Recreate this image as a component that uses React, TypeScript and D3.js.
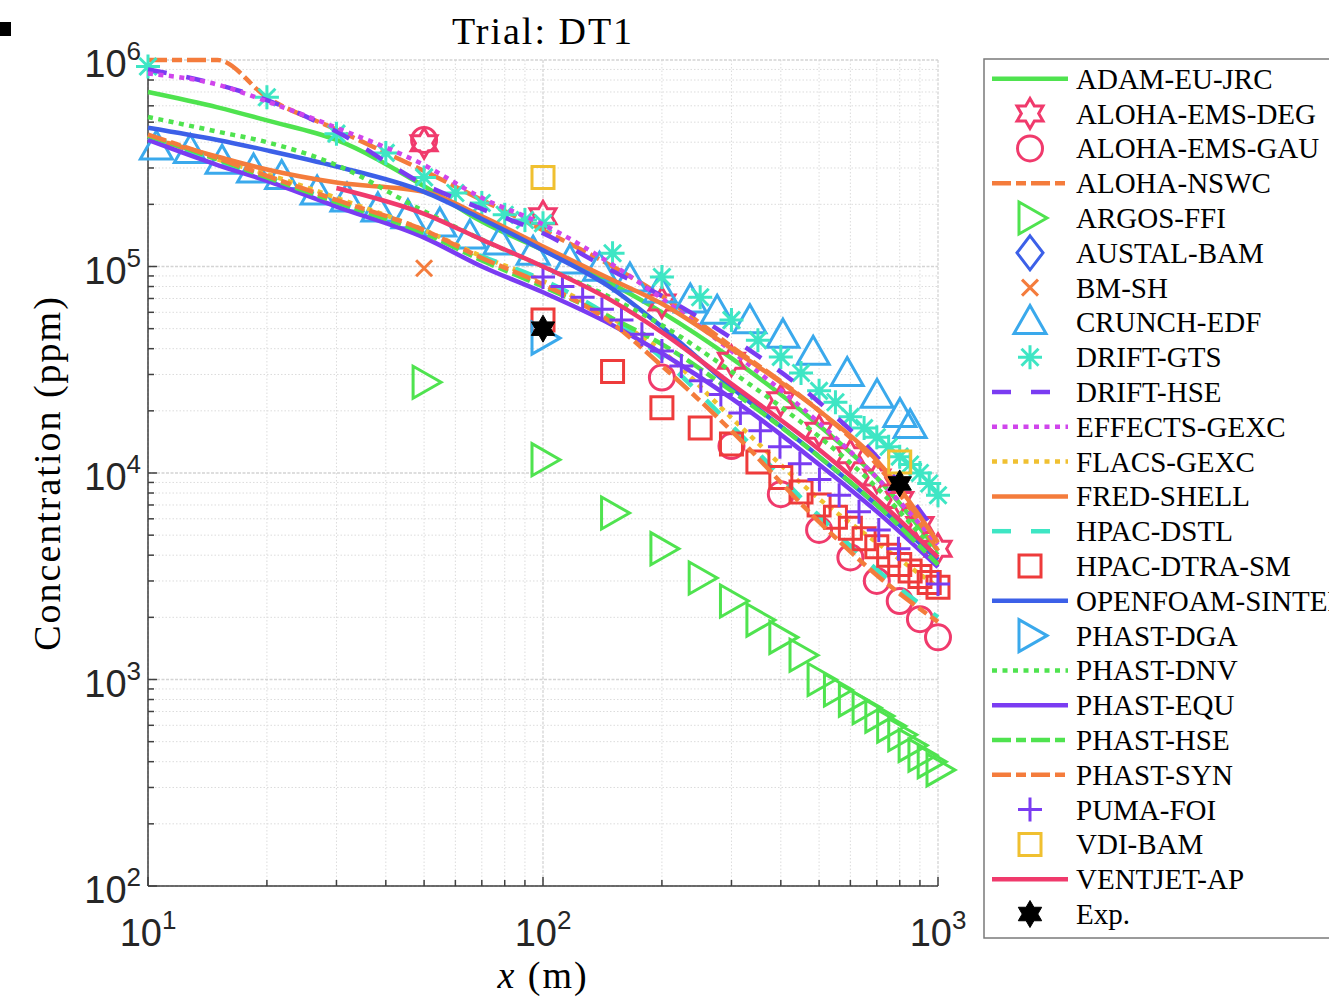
import * as d3 from "d3";
import { useEffect, useRef } from "react";

// downwind distances (m) of the continuous model curves
const lineX = [10, 15, 20, 30, 50, 70, 100, 150, 200, 300, 500, 700, 1000];
const ventjetX = [30, 50, 70, 100, 150, 200, 300, 500, 700, 1000];

// concentrations (ppm) read at lineX
const adamEuJrc = [7.0e5, 5.9e5, 5.1e5, 4.1e5, 2.45e5, 1.65e5, 1.2e5, 8.2e4, 6.0e4, 3.6e4, 1.7e4, 9.5e3, 4.2e3];
const alohaNswc = [1e6, 1e6, 6.6e5, 4.6e5, 2.9e5, 2.1e5, 1.5e5, 1.0e5, 7.2e4, 4.1e4, 2.0e4, 1.1e4, 4.2e3];
const driftHse = [9.0e5, 7.6e5, 6.4e5, 4.5e5, 2.5e5, 1.9e5, 1.45e5, 9.5e4, 7.2e4, 4.5e4, 2.2e4, 1.2e4, 5.0e3];
const effectsGexc = [8.6e5, 7.6e5, 6.3e5, 4.7e5, 3.1e5, 2.15e5, 1.6e5, 1.02e5, 7.0e4, 3.9e4, 1.75e4, 9.5e3, 4.5e3];
const flacsGexc = [4.3e5, 3.3e5, 2.8e5, 2.15e5, 1.5e5, 1.12e5, 8.5e4, 5.6e4, 3.9e4, 1.85e4, 7.5e3, 4.6e3, 2.8e3];
const fredShell = [4.2e5, 3.4e5, 2.95e5, 2.55e5, 2.3e5, 1.75e5, 1.25e5, 8.6e4, 6.6e4, 4.0e4, 2.0e4, 1.15e4, 4.6e3];
const hpacDstl = [4.2e5, 3.25e5, 2.7e5, 2.05e5, 1.45e5, 1.12e5, 8.6e4, 5.6e4, 3.6e4, 1.7e4, 6.2e3, 3.4e3, 2.0e3];
const openfoamSintef = [4.7e5, 4.1e5, 3.65e5, 3.05e5, 2.3e5, 1.7e5, 1.2e5, 7.8e4, 5.1e4, 2.6e4, 1.2e4, 7.0e3, 3.8e3];
const phastDnv = [5.3e5, 4.5e5, 4.0e5, 3.1e5, 1.85e5, 1.35e5, 1.0e5, 7.0e4, 5.2e4, 3.1e4, 1.5e4, 8.5e3, 4.0e3];
const phastEqu = [4.1e5, 3.1e5, 2.6e5, 1.95e5, 1.38e5, 1.0e5, 7.5e4, 5.2e4, 3.8e4, 2.3e4, 1.1e4, 6.5e3, 3.5e3];
const phastHse = [4.3e5, 3.3e5, 2.7e5, 2.05e5, 1.45e5, 1.07e5, 8.0e4, 5.6e4, 4.2e4, 2.5e4, 1.2e4, 7.0e3, 3.6e3];
const phastSyn = [4.35e5, 3.35e5, 2.75e5, 2.1e5, 1.5e5, 1.1e5, 8.2e4, 5.3e4, 3.3e4, 1.6e4, 5.8e3, 3.2e3, 1.9e3];
const ventjetAp = [2.4e5, 1.8e5, 1.35e5, 1.0e5, 6.8e4, 4.8e4, 2.7e4, 1.3e4, 7.5e3, 3.9e3];

// point models
const alohaDegX = [50, 100, 200, 300, 400, 500, 600, 700, 800, 900, 1000];
const alohaDeg = [3.95e5, 1.75e5, 6.7e4, 3.5e4, 2.25e4, 1.6e4, 1.22e4, 9.5e3, 7.4e3, 5.6e3, 4.3e3];
const alohaGauX = [50, 200, 300, 400, 500, 600, 700, 800, 900, 1000];
const alohaGau = [4.1e5, 2.9e4, 1.35e4, 7.9e3, 5.3e3, 3.9e3, 3.0e3, 2.4e3, 1.96e3, 1.6e3];
const argosX = [50, 100, 150, 200, 250, 300, 350, 400, 450, 500, 550, 600, 650, 700, 750, 800, 850, 900, 950, 1000];
const argos = [2.75e4, 1.16e4, 6.4e3, 4.3e3, 3.1e3, 2.4e3, 1.94e3, 1.6e3, 1.31e3, 1.0e3, 890, 795, 730, 665, 595, 540, 480, 430, 400, 365];
const austalX: number[] = [];
const austal: number[] = [];
const bmShX = [50];
const bmSh = [9.8e4];
const crunchX = [10.5, 12.8, 15.4, 18.5, 21.8, 26.8, 31.9, 38.2, 45.5, 54.8, 65.3, 77.8, 94.4, 117, 139, 166, 198, 236, 276, 334, 405, 483, 589, 701, 801, 850];
const crunch = [3.75e5, 3.6e5, 3.2e5, 2.9e5, 2.7e5, 2.27e5, 2.1e5, 1.88e5, 1.74e5, 1.59e5, 1.39e5, 1.3e5, 1.16e5, 1.05e5, 9.7e4, 8.6e4, 7.6e4, 6.8e4, 6.0e4, 5.4e4, 4.6e4, 3.8e4, 3.0e4, 2.35e4, 1.9e4, 1.68e4];
const driftGtsX = [10, 20, 30, 40, 50, 60, 70, 80, 90, 100, 150, 200, 250, 300, 350, 400, 450, 500, 550, 600, 650, 700, 750, 800, 850, 900, 950, 1000];
const driftGts = [9.3e5, 6.6e5, 4.4e5, 3.55e5, 2.7e5, 2.27e5, 2.03e5, 1.78e5, 1.68e5, 1.62e5, 1.16e5, 8.9e4, 7.1e4, 5.5e4, 4.4e4, 3.65e4, 3.05e4, 2.5e4, 2.2e4, 1.87e4, 1.65e4, 1.49e4, 1.34e4, 1.2e4, 1.1e4, 1.0e4, 8.9e3, 7.8e3];
const hpacDtraX = [100, 150, 200, 250, 300, 350, 400, 450, 500, 550, 600, 650, 700, 750, 800, 850, 900, 950, 1000];
const hpacDtra = [5.5e4, 3.1e4, 2.07e4, 1.65e4, 1.38e4, 1.13e4, 9.5e3, 8.1e3, 7.0e3, 6.1e3, 5.4e3, 4.8e3, 4.4e3, 4.0e3, 3.6e3, 3.35e3, 3.15e3, 2.95e3, 2.8e3];
const phastDgaX = [100];
const phastDga = [4.5e4];
const pumaX = [100, 112, 126, 141, 158, 178, 200, 224, 251, 282, 316, 355, 398, 447, 501, 562, 631, 708, 794, 1000];
const puma = [8.9e4, 8.0e4, 7.1e4, 6.2e4, 5.5e4, 4.7e4, 3.9e4, 3.3e4, 2.8e4, 2.4e4, 1.95e4, 1.6e4, 1.34e4, 1.11e4, 9.3e3, 7.8e3, 6.5e3, 5.3e3, 4.3e3, 2.9e3];
const vdiX = [100, 800];
const vdi = [2.7e5, 1.13e4];
const expX = [100, 800];
const expC = [5.0e4, 8.9e3];

const modelNames = [
  "ADAM-EU-JRC", "ALOHA-EMS-DEG", "ALOHA-EMS-GAU", "ALOHA-NSWC", "ARGOS-FFI",
  "AUSTAL-BAM", "BM-SH", "CRUNCH-EDF", "DRIFT-GTS", "DRIFT-HSE", "EFFECTS-GEXC",
  "FLACS-GEXC", "FRED-SHELL", "HPAC-DSTL", "HPAC-DTRA-SM", "OPENFOAM-SINTEF",
  "PHAST-DGA", "PHAST-DNV", "PHAST-EQU", "PHAST-HSE", "PHAST-SYN", "PUMA-FOI",
  "VDI-BAM", "VENTJET-AP", "Exp.",
];

const modelData: [number[], number[]][] = [
  [lineX, adamEuJrc], [alohaDegX, alohaDeg], [alohaGauX, alohaGau], [lineX, alohaNswc],
  [argosX, argos], [austalX, austal], [bmShX, bmSh], [crunchX, crunch], [driftGtsX, driftGts],
  [lineX, driftHse], [lineX, effectsGexc], [lineX, flacsGexc], [lineX, fredShell],
  [lineX, hpacDstl], [hpacDtraX, hpacDtra], [lineX, openfoamSintef], [phastDgaX, phastDga],
  [lineX, phastDnv], [lineX, phastEqu], [lineX, phastHse], [lineX, phastSyn], [pumaX, puma],
  [vdiX, vdi], [ventjetX, ventjetAp], [expX, expC],
];

const GREEN = "#4fe34f", PINK = "#f03a6c", ORANGE = "#f47c3c", BLUE_L = "#3aa9ec",
  TURQ = "#3ee6c4", PURPLE = "#7a3cf2", MAGENTA = "#d045ec", YELLOW = "#f0c030",
  RED = "#ee3b3b", BLUE = "#3c60e8";

const DASH = "19,20", DASHDOT = "19,5,10,5", DOT = "5,5.5";

// style per model: colour, line dash (null = solid, undefined = no line), marker
type Style = { color: string; dash?: string | null; marker?: string };
const styles: Style[] = [
  { color: GREEN, dash: null },
  { color: PINK, marker: "hexagram" },
  { color: PINK, marker: "circle" },
  { color: ORANGE, dash: DASHDOT },
  { color: GREEN, marker: "triRight" },
  { color: BLUE, marker: "diamond" },
  { color: ORANGE, marker: "x" },
  { color: BLUE_L, marker: "triUp" },
  { color: TURQ, marker: "asterisk" },
  { color: PURPLE, dash: DASH },
  { color: MAGENTA, dash: DOT },
  { color: YELLOW, dash: DOT },
  { color: ORANGE, dash: null },
  { color: TURQ, dash: DASH },
  { color: RED, marker: "square" },
  { color: BLUE, dash: null },
  { color: BLUE_L, marker: "triRight" },
  { color: GREEN, dash: DOT },
  { color: PURPLE, dash: null },
  { color: GREEN, dash: DASHDOT },
  { color: ORANGE, dash: DASHDOT },
  { color: PURPLE, marker: "plus" },
  { color: YELLOW, marker: "square" },
  { color: PINK, dash: null },
  { color: "#000000", marker: "star" },
];

const SERIF = "'Liberation Serif', 'DejaVu Serif', serif";
const SANS = "'Liberation Sans', Arial, sans-serif";

const markerPath = (type: string): string => {
  const p = d3.path();
  if (type === "circle") {
    p.arc(0, 0, 12.5, 0, 2 * Math.PI);
    p.closePath();
  } else if (type === "square") {
    p.rect(-11, -11, 22, 22);
  } else if (type === "triUp") {
    p.moveTo(0, -17); p.lineTo(16, 11); p.lineTo(-16, 11); p.closePath();
  } else if (type === "triRight") {
    p.moveTo(17, 0); p.lineTo(-11, 16); p.lineTo(-11, -16); p.closePath();
  } else if (type === "diamond") {
    p.moveTo(0, -17); p.lineTo(13, 0); p.lineTo(0, 17); p.lineTo(-13, 0); p.closePath();
  } else if (type === "x") {
    p.moveTo(-8, -8); p.lineTo(8, 8); p.moveTo(8, -8); p.lineTo(-8, 8);
  } else if (type === "plus") {
    p.moveTo(-12, 0); p.lineTo(12, 0); p.moveTo(0, -12); p.lineTo(0, 12);
  } else if (type === "asterisk") {
    p.moveTo(-12, 0); p.lineTo(12, 0); p.moveTo(0, -12); p.lineTo(0, 12);
    p.moveTo(-8.5, -8.5); p.lineTo(8.5, 8.5); p.moveTo(8.5, -8.5); p.lineTo(-8.5, 8.5);
  } else {
    // six pointed star
    const R = type === "star" ? 13.5 : 15;
    const r = R / Math.sqrt(3);
    for (let k = 0; k < 12; k++) {
      const a = -Math.PI / 2 + (k * Math.PI) / 6;
      const rr = k % 2 === 0 ? R : r;
      if (k === 0) p.moveTo(rr * Math.cos(a), rr * Math.sin(a));
      else p.lineTo(rr * Math.cos(a), rr * Math.sin(a));
    }
    p.closePath();
  }
  return p.toString();
};

const App = () => {
  const svgRef = useRef<SVGSVGElement>(null);

  useEffect(() => {
    const svg = d3.select(svgRef.current);
    svg.selectAll("*").remove();

    const left = 148, right = 938, top = 60, bottom = 886;
    const x = d3.scaleLog().domain([10, 1000]).range([left, right]);
    const y = d3.scaleLog().domain([100, 1e6]).range([bottom, top]);
    const isMajor = (v: number) => Math.abs(Math.log10(v) - Math.round(Math.log10(v))) < 1e-6;

    svg.append("rect").attr("width", 1329).attr("height", 1001).attr("fill", "#fff");
    svg.append("rect").attr("x", 0).attr("y", 22).attr("width", 11).attr("height", 14).attr("fill", "#000");

    // grid
    const grid = svg.append("g");
    x.ticks().forEach((v) => {
      grid.append("line")
        .attr("x1", x(v)).attr("x2", x(v)).attr("y1", top).attr("y2", bottom)
        .attr("stroke", isMajor(v) ? "#d4d4d4" : "#dcdcdc")
        .attr("stroke-width", isMajor(v) ? 1.3 : 1)
        .attr("stroke-dasharray", isMajor(v) ? "3,1.5" : "1.5,2");
    });
    y.ticks().forEach((v) => {
      grid.append("line")
        .attr("y1", y(v)).attr("y2", y(v)).attr("x1", left).attr("x2", right)
        .attr("stroke", isMajor(v) ? "#d4d4d4" : "#dcdcdc")
        .attr("stroke-width", isMajor(v) ? 1.3 : 1)
        .attr("stroke-dasharray", isMajor(v) ? "3,1.5" : "1.5,2");
    });

    // axes
    const ax = svg.append("g").attr("stroke", "#404040").attr("stroke-width", 1.5);
    ax.append("line").attr("x1", left).attr("x2", left).attr("y1", top).attr("y2", bottom);
    ax.append("line").attr("x1", left).attr("x2", right).attr("y1", bottom).attr("y2", bottom);
    x.ticks().forEach((v) => {
      const len = isMajor(v) ? 9 : 6;
      ax.append("line").attr("x1", x(v)).attr("x2", x(v)).attr("y1", bottom).attr("y2", bottom - len);
    });
    y.ticks().forEach((v) => {
      const len = isMajor(v) ? 9 : 6;
      ax.append("line").attr("y1", y(v)).attr("y2", y(v)).attr("x1", left).attr("x2", left + len);
    });

    // tick labels
    x.ticks().filter(isMajor).forEach((v) => {
      const t = svg.append("text")
        .attr("x", x(v)).attr("y", 946)
        .attr("text-anchor", "middle")
        .attr("font-family", SANS).attr("font-size", 38).attr("fill", "#262626");
      t.append("tspan").text("10");
      t.append("tspan").attr("dy", -17).attr("font-size", 26).text(String(Math.round(Math.log10(v))));
    });
    y.ticks().filter(isMajor).forEach((v) => {
      const t = svg.append("text")
        .attr("x", 141).attr("y", y(v) + 17)
        .attr("text-anchor", "end")
        .attr("font-family", SANS).attr("font-size", 38).attr("fill", "#262626");
      t.append("tspan").text("10");
      t.append("tspan").attr("dy", -17).attr("font-size", 26).text(String(Math.round(Math.log10(v))));
    });

    // title and axis labels
    svg.append("text")
      .attr("x", (left + right) / 2).attr("y", 44)
      .attr("text-anchor", "middle")
      .attr("font-family", SERIF).attr("font-size", 38).attr("letter-spacing", 2)
      .text("Trial: DT1");
    const xl = svg.append("text")
      .attr("x", (left + right) / 2).attr("y", 988)
      .attr("text-anchor", "middle")
      .attr("font-family", SERIF).attr("font-size", 38).attr("letter-spacing", 2);
    xl.append("tspan").attr("font-style", "italic").text("x");
    xl.append("tspan").text(" (m)");
    svg.append("text")
      .attr("transform", `translate(60,${(top + bottom) / 2}) rotate(-90)`)
      .attr("text-anchor", "middle")
      .attr("font-family", SERIF).attr("font-size", 38).attr("letter-spacing", 2)
      .text("Concentration (ppm)");

    // series
    const line = d3.line<[number, number]>()
      .x((d) => x(d[0]))
      .y((d) => y(d[1]))
      .curve(d3.curveMonotoneX);
    const plot = svg.append("g");
    modelNames.forEach((name, i) => {
      const st = styles[i];
      const [xs, cs] = modelData[i];
      const pts = xs.map((v, k) => [v, cs[k]] as [number, number]);
      if (st.dash !== undefined) {
        plot.append("path")
          .attr("d", line(pts))
          .attr("fill", "none")
          .attr("stroke", st.color)
          .attr("stroke-width", 4.5)
          .attr("stroke-dasharray", st.dash)
          .attr("data-name", name);
      }
      if (st.marker) {
        const filled = st.marker === "star";
        plot.append("g").selectAll("path")
          .data(pts)
          .enter()
          .append("path")
          .attr("transform", (d) => `translate(${x(d[0])},${y(d[1])})`)
          .attr("d", markerPath(st.marker))
          .attr("fill", filled ? st.color : "none")
          .attr("stroke", st.color)
          .attr("stroke-width", filled ? 1 : 3)
          .attr("stroke-linejoin", "miter");
      }
    });

    // legend
    const lg = svg.append("g");
    lg.append("rect")
      .attr("x", 984).attr("y", 59).attr("width", 400).attr("height", 879)
      .attr("fill", "#fff").attr("stroke", "#7a7a7a").attr("stroke-width", 1.5);
    const rowY = d3.scaleLinear().domain([0, modelNames.length - 1]).range([78.8, 914]);
    modelNames.forEach((name, i) => {
      const st = styles[i];
      const cy = rowY(i);
      if (st.dash !== undefined) {
        lg.append("line")
          .attr("x1", 992).attr("x2", 1068).attr("y1", cy).attr("y2", cy)
          .attr("stroke", st.color).attr("stroke-width", 4.5)
          .attr("stroke-dasharray", st.dash);
      }
      if (st.marker) {
        const filled = st.marker === "star";
        lg.append("path")
          .attr("transform", `translate(1030,${cy})`)
          .attr("d", markerPath(st.marker))
          .attr("fill", filled ? st.color : "none")
          .attr("stroke", st.color)
          .attr("stroke-width", filled ? 1 : 3);
      }
      lg.append("text")
        .attr("x", 1076).attr("y", cy + 10)
        .attr("font-family", SERIF).attr("font-size", 29)
        .text(name);
    });
  }, []);

  return (
    <div style={{ position: "absolute", left: 0, top: 0 }}>
      <svg ref={svgRef} width={1329} height={1001} style={{ display: "block" }} />
    </div>
  );
};

export default App;
